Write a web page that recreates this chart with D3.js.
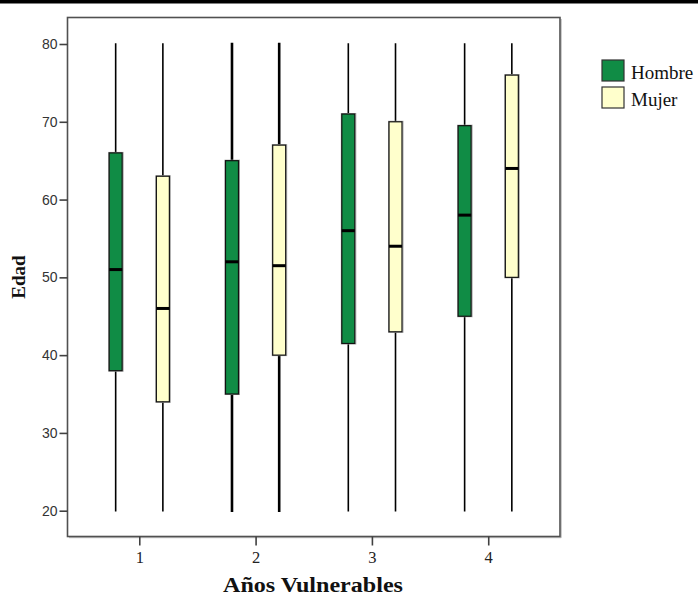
<!DOCTYPE html>
<html>
<head>
<meta charset="utf-8">
<script src="https://cdn.jsdelivr.net/npm/d3@7"></script>
<style>
  body { margin: 0; background: #fff; }
  svg { display: block; }
</style>
</head>
<body>
<div id="chart"></div>
<script>
// Data
const categories = ["1", "2", "3", "4"];
const groups = ["Hombre", "Mujer"];
const yTicks = [20, 30, 40, 50, 60, 70, 80];

const minHombre = [20, 20, 20, 20];
const q1Hombre = [38, 35, 41.5, 45];
const medianHombre = [51, 52, 56, 58];
const q3Hombre = [66, 65, 71, 69.5];
const maxHombre = [80, 80, 80, 80];

const minMujer = [20, 20, 20, 20];
const q1Mujer = [34, 40, 43, 50];
const medianMujer = [46, 51.5, 54, 64];
const q3Mujer = [63, 67, 70, 76];
const maxMujer = [80, 80, 80, 80];

const colors = { Hombre: "#108c45", Mujer: "#ffffcc" };

const width = 698;
const height = 597;
const plot = { left: 67.5, top: 17.5, right: 560, bottom: 536.5 };
const serif = "'Liberation Serif', 'Times New Roman', serif";

const svg = d3.select("#chart")
    .append("svg")
    .attr("width", width)
    .attr("height", height);

// thick rule at the top of the page
svg.append("rect")
    .attr("x", 0).attr("y", 0)
    .attr("width", width).attr("height", 3.5)
    .attr("fill", "#000");

const xScale = d3.scalePoint()
    .domain(categories)
    .range([plot.left, plot.right])
    .padding(0.617);

const xSub = d3.scalePoint()
    .domain(groups)
    .range([-23.6, 23.6]);

const yScale = d3.scaleLinear()
    .domain([20, 80])
    .range([510.7, 44]);

// build rows for each box
const boxes = [];
categories.forEach((c, i) => {
    boxes.push({ cat: c, group: "Hombre", min: minHombre[i], q1: q1Hombre[i], med: medianHombre[i], q3: q3Hombre[i], max: maxHombre[i] });
    boxes.push({ cat: c, group: "Mujer", min: minMujer[i], q1: q1Mujer[i], med: medianMujer[i], q3: q3Mujer[i], max: maxMujer[i] });
});

// frame with its light shadow
svg.append("path")
    .attr("d", `M${plot.left + 1.5},${plot.bottom + 1.2}H${plot.right + 1.2}V${plot.top + 1.5}`)
    .attr("fill", "none")
    .attr("stroke", "#b5b5b5")
    .attr("stroke-width", 1);
svg.append("rect")
    .attr("x", plot.left).attr("y", plot.top)
    .attr("width", plot.right - plot.left)
    .attr("height", plot.bottom - plot.top)
    .attr("fill", "none")
    .attr("stroke", "#505050")
    .attr("stroke-width", 1.6);

// Y axis
const yAxis = svg.append("g")
    .attr("transform", `translate(${plot.left},0)`)
    .call(d3.axisLeft(yScale).tickValues(yTicks).tickSize(8).tickPadding(2).tickSizeOuter(0));
yAxis.select(".domain").remove();
yAxis.selectAll(".tick line").attr("stroke", "#404040").attr("stroke-width", 1.6);
yAxis.selectAll(".tick text")
    .attr("fill", "#333")
    .style("font-family", "'Liberation Sans', Arial, sans-serif")
    .style("font-size", "14px");

// X axis
const xAxis = svg.append("g")
    .attr("transform", `translate(0,${plot.bottom})`)
    .call(d3.axisBottom(xScale).tickSize(9).tickPadding(6).tickSizeOuter(0));
xAxis.select(".domain").remove();
xAxis.selectAll(".tick line").attr("stroke", "#404040").attr("stroke-width", 1.6);
xAxis.selectAll(".tick text")
    .attr("fill", "#222")
    .style("font-family", serif)
    .style("font-size", "16.5px");

const boxWidth = 13;
const cell = svg.selectAll(".box")
    .data(boxes)
    .enter().append("g")
    .attr("class", "box")
    .attr("transform", d => `translate(${xScale(d.cat) + xSub(d.group)},0)`);

// whiskers (category 2 is drawn heavier in the source)
cell.append("line")
    .attr("x1", 0).attr("x2", 0)
    .attr("y1", d => yScale(d.max))
    .attr("y2", d => yScale(d.min))
    .attr("stroke", "#000")
    .attr("stroke-linecap", "square")
    .attr("stroke-width", d => d.cat === "2" ? 2.6 : 1.6);

// box shadow edge
cell.append("rect")
    .attr("x", -boxWidth / 2 - 0.5)
    .attr("y", d => yScale(d.q3) - 0.5)
    .attr("width", boxWidth + 1.5)
    .attr("height", d => yScale(d.q1) - yScale(d.q3) + 1)
    .attr("fill", "none")
    .attr("stroke", "#a8a8a8")
    .attr("stroke-width", 1);

cell.append("rect")
    .attr("x", -boxWidth / 2)
    .attr("y", d => yScale(d.q3))
    .attr("width", boxWidth)
    .attr("height", d => yScale(d.q1) - yScale(d.q3))
    .attr("fill", d => colors[d.group])
    .attr("stroke", "#111")
    .attr("stroke-width", 1.2);

// medians
cell.append("line")
    .attr("x1", -boxWidth / 2).attr("x2", boxWidth / 2)
    .attr("y1", d => yScale(d.med)).attr("y2", d => yScale(d.med))
    .attr("stroke", "#000")
    .attr("stroke-width", 3);

// axis titles
svg.append("text")
    .attr("x", 223)
    .attr("y", 592)
    .attr("textLength", 180)
    .attr("lengthAdjust", "spacingAndGlyphs")
    .style("font-family", serif)
    .style("font-weight", "bold")
    .style("font-size", "20px")
    .attr("fill", "#111")
    .text("Años Vulnerables");

svg.append("text")
    .attr("transform", `translate(25,${(plot.top + plot.bottom) / 2}) rotate(-90)`)
    .attr("text-anchor", "middle")
    .style("font-family", serif)
    .style("font-weight", "bold")
    .style("font-size", "19px")
    .attr("fill", "#111")
    .text("Edad");

// legend
const legend = svg.selectAll(".legend")
    .data(groups)
    .enter().append("g")
    .attr("class", "legend")
    .attr("transform", (d, i) => `translate(602,${60 + i * 27})`);

legend.append("rect")
    .attr("x", 0).attr("y", 0)
    .attr("width", 22).attr("height", 21)
    .attr("fill", d => colors[d])
    .attr("stroke", "#333")
    .attr("stroke-width", 1.2);

legend.append("text")
    .attr("x", 29)
    .attr("y", 19)
    .style("font-family", serif)
    .style("font-size", "19px")
    .attr("fill", "#111")
    .text(d => d);
</script>
</body>
</html>
